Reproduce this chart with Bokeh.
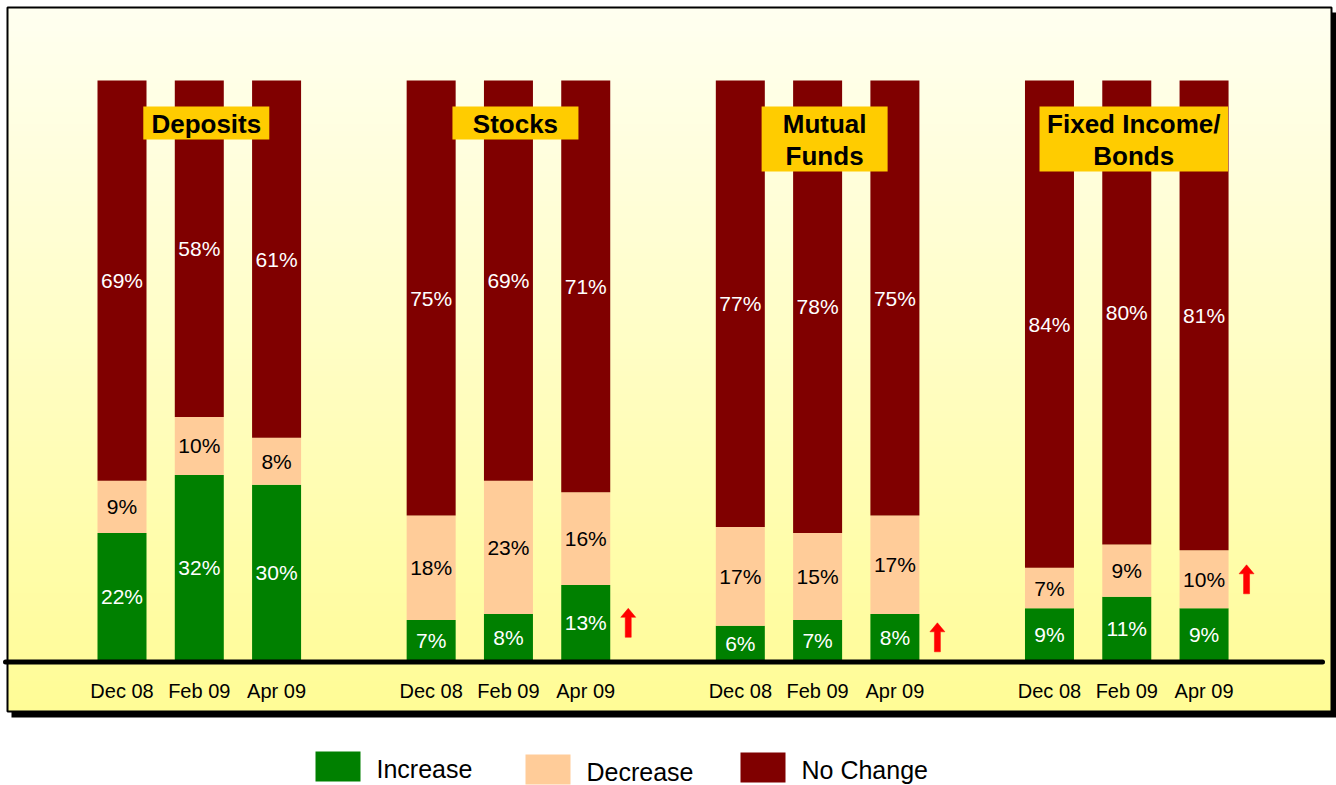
import numpy as np
from bokeh.plotting import figure
from bokeh.models import Range1d, ColumnDataSource
from bokeh.core.properties import value
from bokeh.embed import file_html
from bokeh.resources import INLINE

# ---------------- data ----------------
groups = ["Deposits", "Stocks", "Mutual\nFunds", "Fixed Income/\nBonds"]
periods = ["Dec 08", "Feb 09", "Apr 09"]
series = ["Increase", "Decrease", "No Change"]
increase = [22, 32, 30, 7, 8, 13, 6, 7, 8, 9, 11, 9]
decrease = [9, 10, 8, 18, 23, 16, 17, 15, 17, 7, 9, 10]
no_change = [69, 58, 61, 75, 69, 71, 77, 78, 75, 84, 80, 81]
# series next to which a red "up" arrow is shown (empty = none)
arrow_on = ["", "", "", "", "", "Increase", "", "", "Increase", "", "", "Decrease"]

colors = {"Increase": "#008000", "Decrease": "#FFCC99", "No Change": "#800000"}
label_colors = {"Increase": "white", "Decrease": "black", "No Change": "white"}
FONT = value("Liberation Sans")

# ---------------- geometry ----------------
W, H = 1336, 785
SX = 77.29          # px per bar slot
SY = 5.8            # px per percent
X0 = -121.5 / SX
Y_TOP = 660 / SY


def X(px):
    return X0 + px / SX


def Y(py):
    return Y_TOP - py / SY


p = figure(width=W, height=H,
           x_range=Range1d(X0, X0 + W / SX),
           y_range=Range1d(Y_TOP - H / SY, Y_TOP),
           output_backend="svg", toolbar_location=None,
           x_axis_location=None, y_axis_location=None,
           min_border=0, outline_line_color=None,
           background_fill_color="white", border_fill_color="white")
p.xgrid.visible = False
p.ygrid.visible = False

# frame shadow
p.quad(left=X(11), right=X(1336), top=Y(12), bottom=Y(717),
       fill_color="black", line_color=None)

# gradient background (light cream -> yellow)
N = 120
top_c = np.array([255, 255, 240])
bot_c = np.array([255, 252, 150])
edges = np.linspace(7, 711, N + 1)
cols = []
for k in range(N):
    t = k / (N - 1)
    c = (top_c * (1 - t) + bot_c * t).round().astype(int)
    cols.append("#%02x%02x%02x" % tuple(c))
p.quad(left=[X(7)] * N, right=[X(1331)] * N,
       top=[Y(e - 0.5) for e in edges[:-1]],
       bottom=[Y(e + 0.5) for e in edges[1:]],
       fill_color=cols, line_color=None)

# frame border
p.quad(left=X(7), right=X(1331), top=Y(7), bottom=Y(711),
       fill_color=None, line_color="black", line_width=2)

# ---------------- bars ----------------
n_g = len(groups)
n_p = len(periods)
slots = np.array([g * (n_p + 1) + i for g in range(n_g) for i in range(n_p)], dtype=float)
vals = np.array([increase, decrease, no_change], dtype=float)
tot = vals.sum(axis=0)
pct = vals / tot * 100.0
bottoms = np.vstack([np.zeros(len(slots)), np.cumsum(pct, axis=0)[:-1]])
tops = np.cumsum(pct, axis=0)
BW = 49 / SX

for s_i, s in enumerate(series):
    src = ColumnDataSource(dict(x=slots, bottom=bottoms[s_i], top=tops[s_i],
                                mid=(bottoms[s_i] + tops[s_i]) / 2,
                                lab=["%d%%" % v for v in vals[s_i]]))
    p.vbar(x="x", width=BW, bottom="bottom", top="top", source=src,
           fill_color=colors[s], line_color=None)
    p.text(x="x", y="mid", text="lab", source=src,
           text_font=FONT, text_font_size="21px",
           text_color=label_colors[s], text_align="center",
           text_baseline="middle")

# baseline
p.line(x=[X(5), X(1322)], y=[Y(661.5), Y(661.5)], line_color="black",
       line_width=5, line_cap="round")

# period labels
p.text(x=slots, y=[Y(690)] * len(slots), text=periods * n_g,
       text_font=FONT, text_font_size="20px", text_color="black",
       text_align="center", text_baseline="middle")

# group titles in gold boxes
gc = np.array([g * (n_p + 1) + (n_p - 1) / 2 for g in range(n_g)]) + 7 / SX
for g, name in enumerate(groups):
    lines = name.split("\n")
    wpx = max(126, 14.5 * max(len(l) for l in lines))
    hpx = 32 * len(lines) + 1
    top_px = 106
    p.quad(left=gc[g] - wpx / 2 / SX, right=gc[g] + wpx / 2 / SX,
           top=Y(top_px), bottom=Y(top_px + hpx),
           fill_color="#FFCC00", line_color=None)
    p.text(x=[gc[g]], y=[Y(top_px + hpx / 2 + 1)], text=[name],
           text_font=FONT, text_font_size="26px", text_font_style="bold",
           text_color="black", text_align="center", text_baseline="middle",
           text_line_height=1.07)

# red up arrows
shape = [(0, -14.5), (7.5, -5.5), (3, -5.5), (3, 14.5), (-3, 14.5), (-3, -5.5), (-7.5, -5.5)]
xs, ys = [], []
for j, a in enumerate(arrow_on):
    if not a:
        continue
    s_i = series.index(a)
    cx = slots[j] + BW / 2 + 18 / SX
    cy = (bottoms[s_i][j] + tops[s_i][j]) / 2
    xs.append([cx + dx / SX for dx, dy in shape])
    ys.append([cy - dy / SY for dx, dy in shape])
p.patches(xs=xs, ys=ys, fill_color="#FF0000", line_color="#FF0000", line_width=0.5)

# legend (drawn below the frame)
leg_sq = [(315, 751), (525, 754), (740, 752)]
leg_txt_y = [768, 771, 769]
for (lx, ly), ty, s in zip(leg_sq, leg_txt_y, series):
    p.quad(left=X(lx), right=X(lx + 45), top=Y(ly), bottom=Y(ly + 30),
           fill_color=colors[s], line_color=None)
    p.text(x=[X(lx + 61)], y=[Y(ty)], text=[s], text_font=FONT,
           text_font_size="25px", text_color="black", text_align="left",
           text_baseline="middle")

open("out.html", "w").write(file_html(p, INLINE))
